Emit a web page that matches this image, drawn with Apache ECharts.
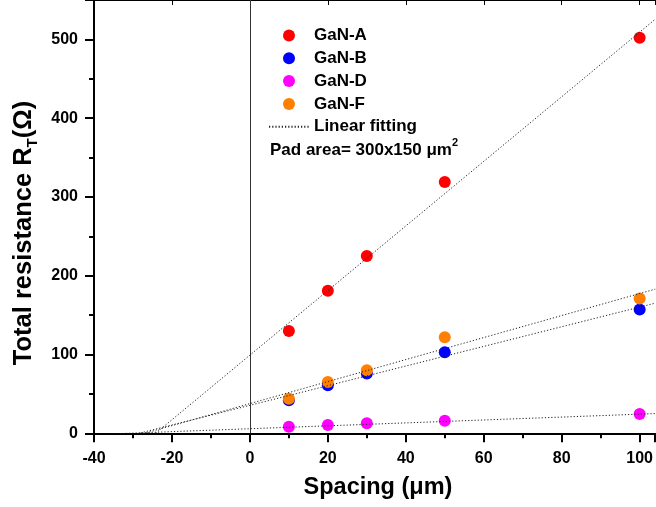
<!DOCTYPE html>
<html><head><meta charset="utf-8">
<script src="https://cdn.jsdelivr.net/npm/echarts@6/dist/echarts.min.js"></script>
<style>html,body{margin:0;padding:0;background:#fff}#c{width:656px;height:507px}</style>
</head><body><div id="c"></div>
<script>
// ---- data ----
const spacing = [10, 20, 30, 50, 100];
const ganA = [130, 181, 225, 319, 502];
const ganB = [42, 61, 76, 103, 157];
const ganD = [8.4, 10.5, 12.7, 16, 24.5];
const ganF = [44, 65, 80, 122, 171];
const seriesNames = ['GaN-A', 'GaN-B', 'GaN-D', 'GaN-F'];
const seriesColors = ['#ff0000', '#0000ff', '#ff00ff', '#ff8000'];
// linear fitting lines (slope, intercept)
const fitSlope = [4.10, 1.247, 0.185, 1.397];
const fitIntercept = [99.2, 35.5, 5.8, 37.7];
const fitRange = [-40, 104];
const xRange = [-40, 104];
const yRange = [0, 550];
const fitName = 'Linear fitting';
const padText = 'Pad area= 300x150 \u03bcm';
const xTitle = 'Spacing (\u03bcm)';

const FONT = '"Liberation Sans", Arial, sans-serif';
const allY = [ganA, ganB, ganD, ganF];

const scatterSeries = allY.map((ys, i) => ({
  type: 'scatter',
  name: seriesNames[i],
  data: spacing.map((x, j) => [x, ys[j]]),
  symbol: 'circle',
  symbolSize: 12,
  itemStyle: { color: seriesColors[i], opacity: 1 },
  z: 3 + i
}));

const fitSeries = fitSlope.map((s, i) => ({
  type: 'line',
  name: fitName,
  data: fitRange.map(x => [x, fitIntercept[i] + s * x]),
  showSymbol: false,
  symbol: 'none',
  clip: true,
  lineStyle: { color: '#222', width: 1, type: [1.2, 2] },
  itemStyle: { color: '#222' },
  z: 10
}));

const zeroLine = {
  type: 'line', name: 'zero', data: [], silent: true,
  markLine: {
    silent: true, symbol: 'none', animation: false,
    label: { show: false },
    lineStyle: { color: '#333', width: 1, type: 'solid' },
    data: [{ xAxis: 0 }]
  }
};

const chart = echarts.init(document.getElementById('c'), null, { renderer: 'canvas' });
chart.setOption({
  animation: false,
  backgroundColor: '#fff',
  grid: { left: 94, right: 0, top: 0, bottom: 73.7, containLabel: false },
  xAxis: [{
    type: 'value', min: xRange[0], max: xRange[1], interval: 20,
    axisLine: { show: true, onZero: false, lineStyle: { color: '#000', width: 2 } },
    axisTick: { show: true, inside: false, length: 9, lineStyle: { color: '#000', width: 2 } },
    minorTick: { show: true, splitNumber: 2, length: 5, lineStyle: { color: '#000', width: 2 } },
    axisLabel: { color: '#000', fontFamily: FONT, fontWeight: 'bold', fontSize: 16, margin: 17, showMaxLabel: false },
    splitLine: { show: false }
  }, {
    type: 'value', position: 'top', min: xRange[0], max: xRange[1], interval: 20,
    axisLine: { show: true, onZero: false, lineStyle: { color: '#000', width: 2 } },
    axisTick: { show: true, inside: true, length: 5, lineStyle: { color: '#000', width: 1 } },
    axisLabel: { show: false }, splitLine: { show: false }
  }],
  yAxis: {
    type: 'value', min: yRange[0], max: yRange[1], interval: 100,
    axisLine: { show: true, onZero: false, lineStyle: { color: '#000', width: 2 } },
    axisTick: { show: true, inside: false, length: 9, lineStyle: { color: '#000', width: 2 } },
    minorTick: { show: true, splitNumber: 2, length: 5, lineStyle: { color: '#000', width: 2 } },
    axisLabel: { color: '#000', fontFamily: FONT, fontWeight: 'bold', fontSize: 16, margin: 16, showMaxLabel: false },
    splitLine: { show: false }
  },
  legend: {
    data: seriesNames.concat([{ name: fitName, itemStyle: { opacity: 0 } }]),
    orient: 'vertical', left: 268, top: 27, padding: 0,
    itemWidth: 40, itemHeight: 12, itemGap: 5.8,
    selectedMode: false,
    textStyle: { color: '#000', fontFamily: FONT, fontWeight: 'bold', fontSize: 17 }
  },
  graphic: [{
    type: 'text', left: 270, top: 137,
    style: {
      text: '{m|' + padText + '}{s|2}',
      rich: {
        m: { fontFamily: FONT, fontWeight: 'bold', fontSize: 17, fill: '#000', lineHeight: 22, verticalAlign: 'bottom' },
        s: { fontFamily: FONT, fontWeight: 'bold', fontSize: 11, fill: '#000', lineHeight: 22, verticalAlign: 'top' }
      }
    }
  }, {
    type: 'text', x: 378, y: 488,
    style: {
      text: xTitle, fontFamily: FONT, fontWeight: 'bold', fontSize: 23.5, fill: '#000',
      align: 'center', verticalAlign: 'middle'
    }
  }, {
    type: 'text', x: 24, y: 233, rotation: Math.PI / 2,
    style: {
      text: '{m|Total resistance R}{s|T}{m|(\u03a9)}',
      align: 'center', verticalAlign: 'middle',
      rich: {
        m: { fontFamily: FONT, fontWeight: 'bold', fontSize: 25.5, fill: '#000', lineHeight: 32, verticalAlign: 'middle' },
        s: { fontFamily: FONT, fontWeight: 'bold', fontSize: 15, fill: '#000', lineHeight: 32, verticalAlign: 'bottom' }
      }
    }
  }],
  series: [zeroLine].concat(scatterSeries, fitSeries)
});
</script></body></html>
